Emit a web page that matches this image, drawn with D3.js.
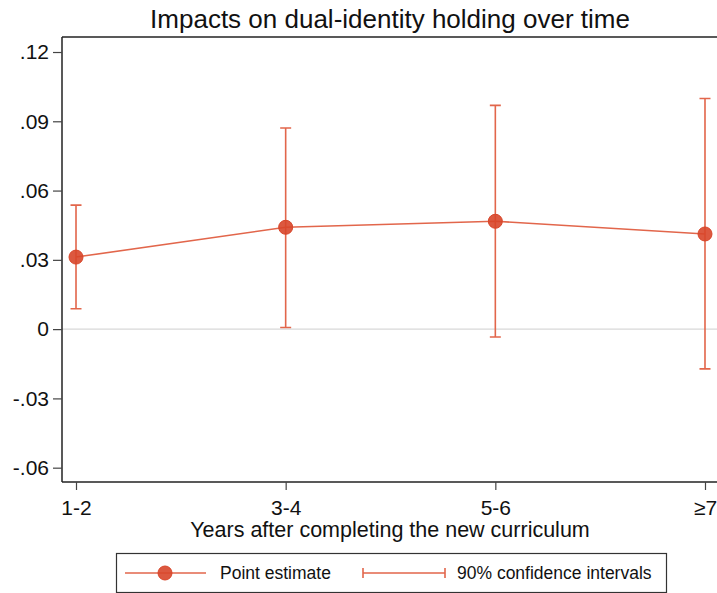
<!DOCTYPE html>
<html>
<head>
<meta charset="utf-8">
<script src="https://cdn.jsdelivr.net/npm/d3@7"></script>
<style>
  body { margin: 0; background: #fff; }
  text { font-family: 'Liberation Sans', Arial, sans-serif; fill: #111; }
</style>
</head>
<body>
<svg id="chart" width="717" height="593"></svg>
<script>
const categories = ['1-2', '3-4', '5-6', '≥7'];
const estimates = [0.0312, 0.0441, 0.0467, 0.0412];
const ciLower = [0.0088, 0.0007, -0.0034, -0.0172];
const ciUpper = [0.0537, 0.0871, 0.0969, 0.0999];
const yTickValues = [-0.06, -0.03, 0, 0.03, 0.06, 0.09, 0.12];
const yTickLabels = ['-.06', '-.03', '0', '.03', '.06', '.09', '.12'];

const LINE_COLOR = '#e2664b';
const MARKER_COLOR = '#d8462a';

const svg = d3.select('#chart');
const plot = { left: 62, right: 719, top: 37, bottom: 482 };

const x = d3.scalePoint()
  .domain(categories)
  .range([plot.left, plot.right])
  .padding(0.0668);

const y = d3.scaleLinear()
  .domain([-0.0662, 0.1265])
  .range([plot.bottom, plot.top]);

const rows = categories.map((c, i) => ({
  cat: c, est: estimates[i], lo: ciLower[i], hi: ciUpper[i]
}));

// title
svg.append('text')
  .attr('x', 390)
  .attr('y', 28)
  .attr('text-anchor', 'middle')
  .style('font-size', '26px')
  .text('Impacts on dual-identity holding over time');

// zero reference line
svg.append('line')
  .attr('x1', plot.left).attr('x2', plot.right)
  .attr('y1', y(0)).attr('y2', y(0))
  .attr('stroke', '#d8d8d8')
  .attr('stroke-width', 1.2);

// top frame
svg.append('line')
  .attr('x1', plot.left).attr('x2', plot.right)
  .attr('y1', plot.top).attr('y2', plot.top)
  .attr('stroke', '#222')
  .attr('stroke-width', 1.5);

// y axis
const yAxis = svg.append('g')
  .attr('transform', `translate(${plot.left},0)`)
  .call(d3.axisLeft(y)
    .tickValues(yTickValues)
    .tickFormat((d, i) => yTickLabels[i])
    .tickSize(9)
    .tickPadding(4)
    .tickSizeOuter(0));
yAxis.select('.domain')
  .attr('d', `M0,${plot.top}V${plot.bottom}`)
  .attr('stroke', '#222')
  .attr('stroke-width', 1.5);
yAxis.selectAll('.tick line').attr('stroke', '#444').attr('stroke-width', 1.2);
yAxis.selectAll('.tick text')
  .style('font-size', '21px')
  .style('font-family', "'Liberation Sans', Arial, sans-serif")
  .attr('fill', '#111');

// x axis
const xAxis = svg.append('g')
  .attr('transform', `translate(0,${plot.bottom})`)
  .call(d3.axisBottom(x).tickSize(8).tickPadding(10).tickSizeOuter(0));
xAxis.select('.domain')
  .attr('d', `M${plot.left},0H${plot.right}`)
  .attr('stroke', '#222')
  .attr('stroke-width', 1.5);
xAxis.selectAll('.tick line').attr('stroke', '#444').attr('stroke-width', 1.2);
xAxis.selectAll('.tick text')
  .style('font-size', '21px')
  .style('font-family', "'Liberation Sans', Arial, sans-serif")
  .attr('fill', '#111');

svg.append('text')
  .attr('x', 390)
  .attr('y', 537)
  .attr('text-anchor', 'middle')
  .style('font-size', '21.5px')
  .text('Years after completing the new curriculum');

// confidence intervals
const ci = svg.append('g')
  .attr('stroke', LINE_COLOR)
  .attr('stroke-width', 1.6)
  .attr('fill', 'none');
const capW = 5.5;
ci.selectAll('path.ci')
  .data(rows)
  .join('path')
  .attr('class', 'ci')
  .attr('d', d => {
    const cx = x(d.cat);
    return `M${cx},${y(d.lo)}V${y(d.hi)}` +
      `M${cx - capW},${y(d.lo)}H${cx + capW}` +
      `M${cx - capW},${y(d.hi)}H${cx + capW}`;
  });

// estimate line
svg.append('path')
  .datum(rows)
  .attr('fill', 'none')
  .attr('stroke', LINE_COLOR)
  .attr('stroke-width', 1.6)
  .attr('d', d3.line().x(d => x(d.cat)).y(d => y(d.est)));

svg.append('g')
  .selectAll('circle')
  .data(rows)
  .join('circle')
  .attr('cx', d => x(d.cat))
  .attr('cy', d => y(d.est))
  .attr('r', 7)
  .attr('fill', MARKER_COLOR)
  .attr('fill-opacity', 0.9)
  .attr('stroke', MARKER_COLOR)
  .attr('stroke-width', 1);

// legend
const translate = (a, b) => `translate(${a},${b})`;
const legend = svg.append('g').attr('transform', translate(116, 553));

legend.append('rect')
  .attr('x', 0.5).attr('y', 0.5)
  .attr('width', 550).attr('height', 39)
  .attr('fill', '#fff')
  .attr('stroke', '#333')
  .attr('stroke-width', 1.2);

const ly = 20;
legend.append('line')
  .attr('x1', 9).attr('x2', 90)
  .attr('y1', ly).attr('y2', ly)
  .attr('stroke', LINE_COLOR).attr('stroke-width', 1.6);
legend.append('circle')
  .attr('cx', 49).attr('cy', ly).attr('r', 7)
  .attr('fill', MARKER_COLOR).attr('fill-opacity', 0.9)
  .attr('stroke', MARKER_COLOR);
legend.append('text')
  .attr('x', 104).attr('y', ly + 6)
  .style('font-size', '17.5px')
  .text('Point estimate');

legend.append('path')
  .attr('d', `M247,${ly}H329M247,${ly - 5}V${ly + 5}M329,${ly - 5}V${ly + 5}`)
  .attr('stroke', LINE_COLOR).attr('stroke-width', 1.6)
  .attr('fill', 'none');
legend.append('text')
  .attr('x', 341).attr('y', ly + 6)
  .style('font-size', '17.5px')
  .text('90% confidence intervals');
</script>
</body>
</html>
